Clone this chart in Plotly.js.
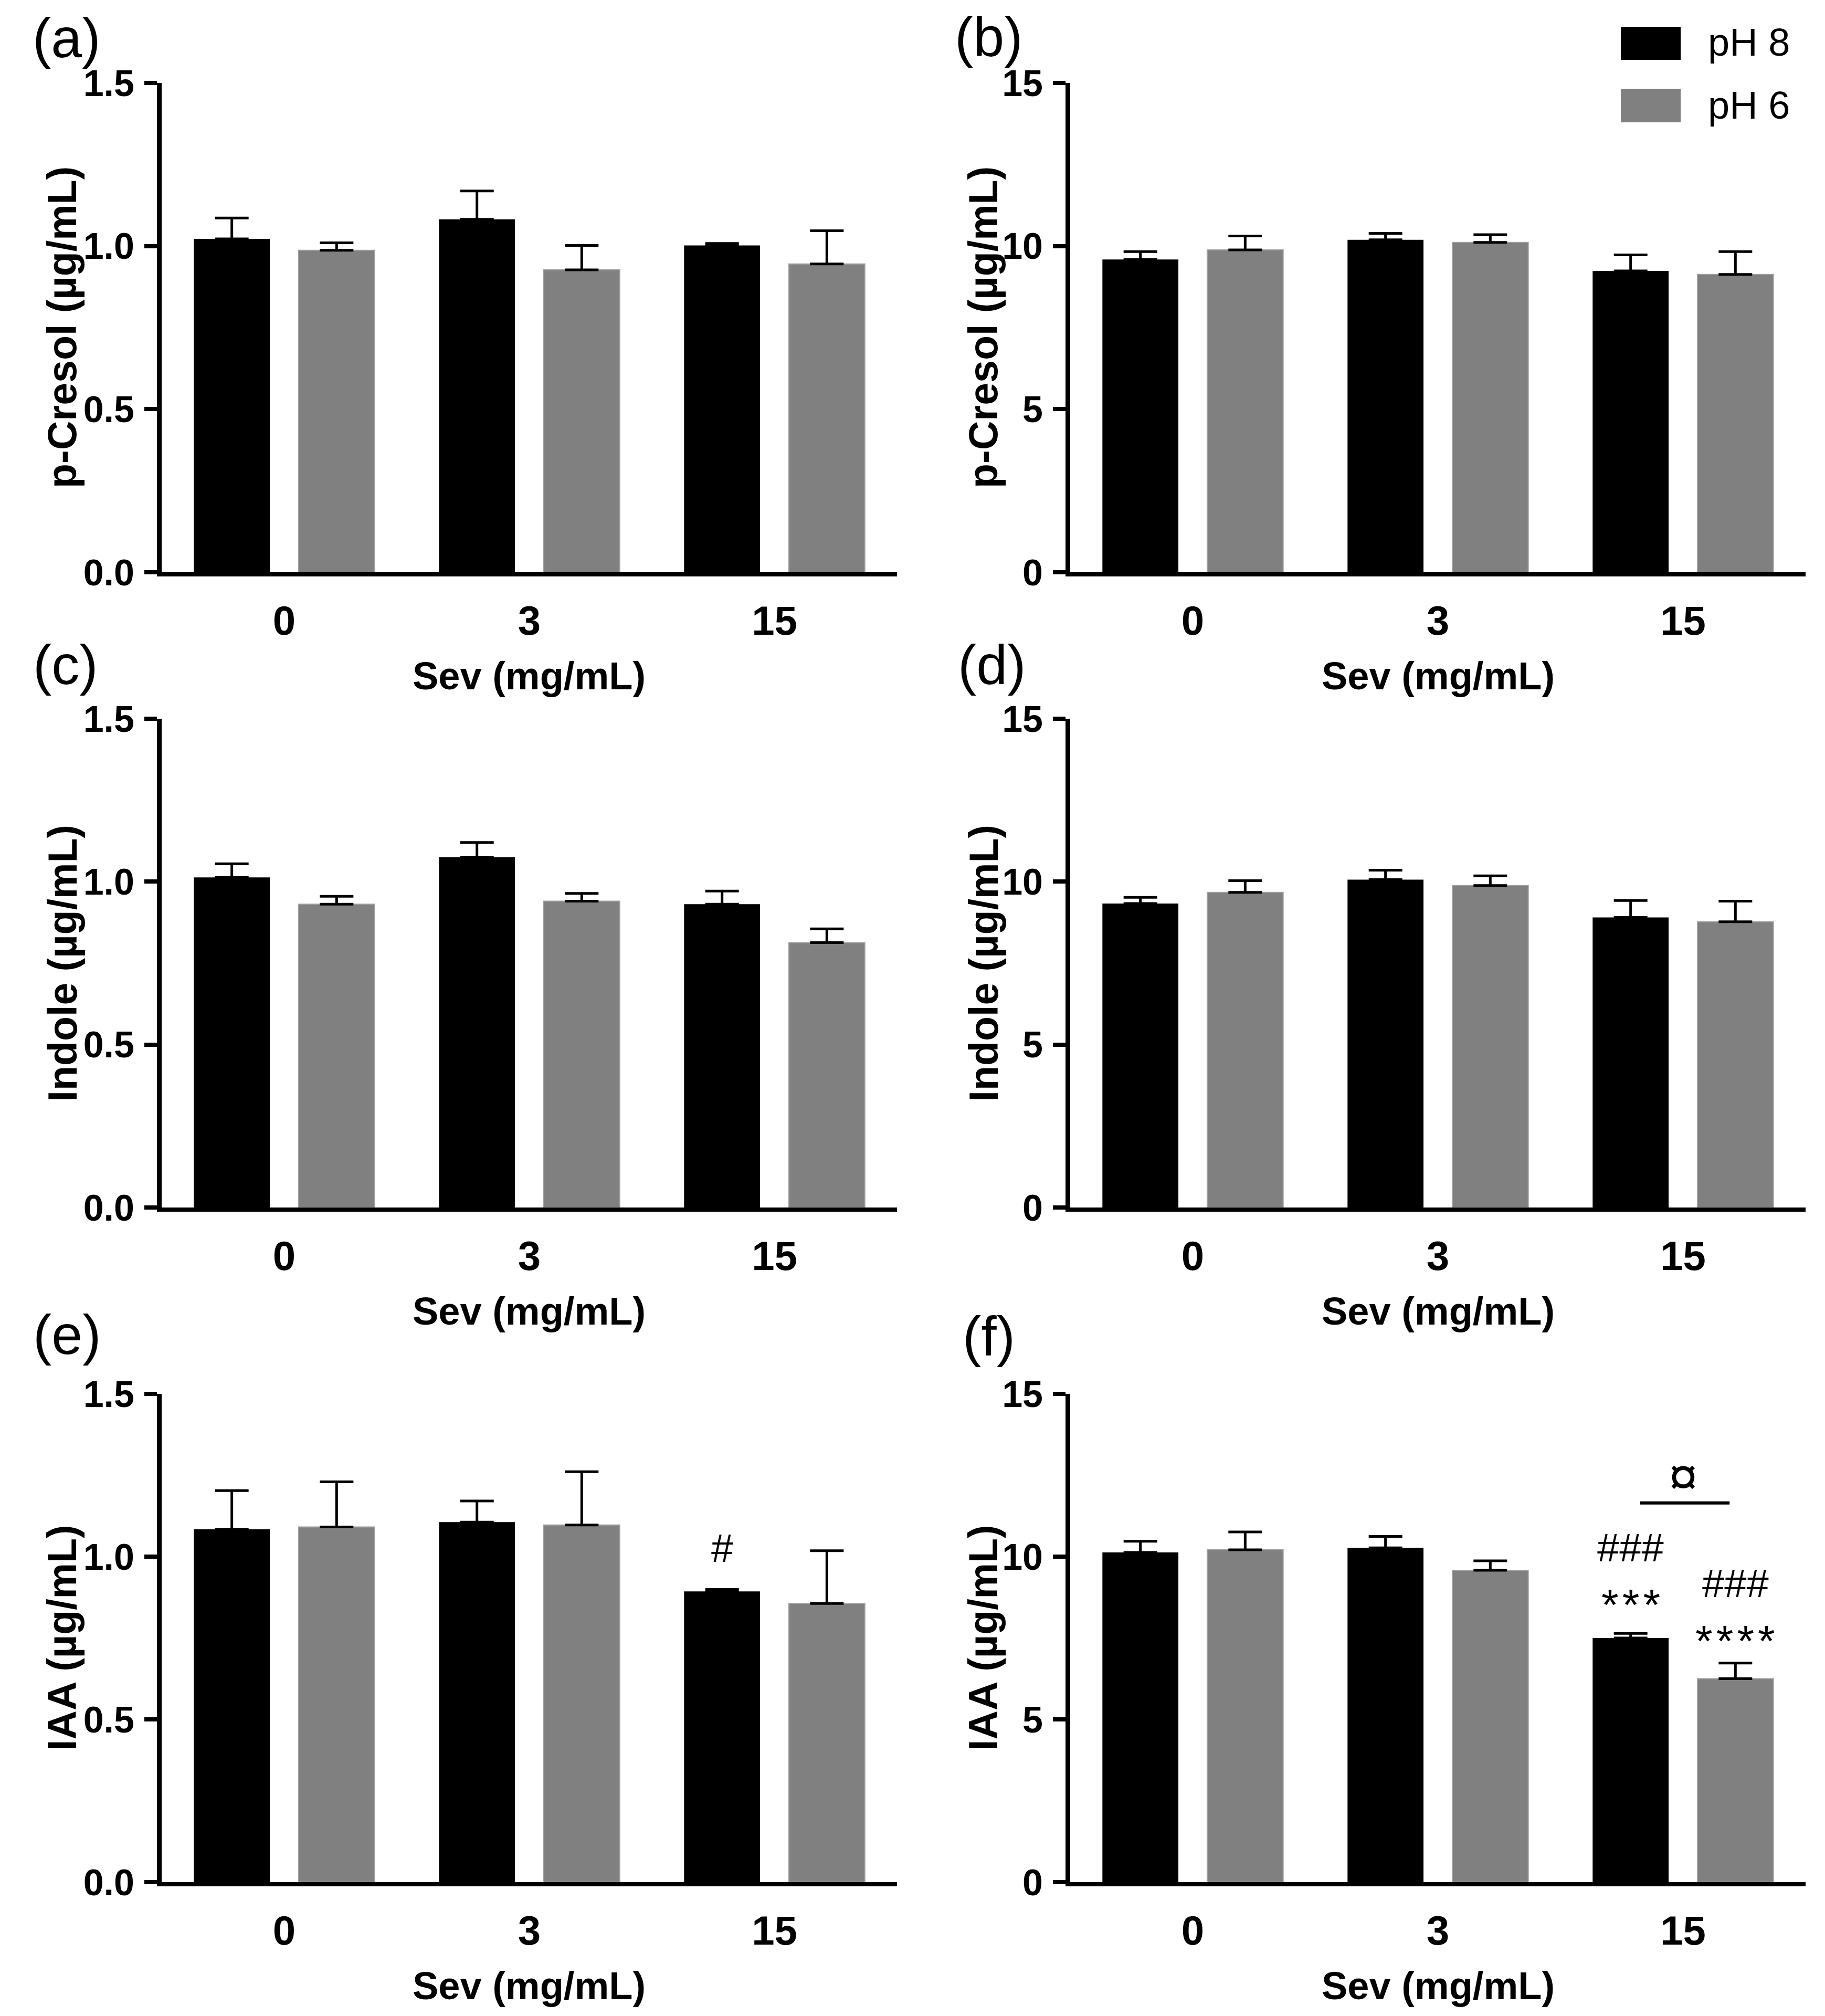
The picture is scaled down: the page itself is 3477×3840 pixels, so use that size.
<!DOCTYPE html>
<html>
<head>
<meta charset="utf-8">
<script src="https://cdn.plot.ly/plotly-3.0.1.min.js"></script>
<style>html,body{margin:0;padding:0;background:#fff;}#chart{width:3477px;height:3840px;}</style>
</head>
<body>
<div id="chart"></div>
<script>
// ---------- data ----------
const categories = ['0', '3', '15'];
const seriesNames = ['pH 8', 'pH 6'];
const panelLabels = ['(a)', '(b)', '(c)', '(d)', '(e)', '(f)'];
const yTitles = ['p-Cresol (µg/mL)', 'p-Cresol (µg/mL)', 'Indole (µg/mL)', 'Indole (µg/mL)', 'IAA (µg/mL)', 'IAA (µg/mL)'];
const xTitle = 'Sev (mg/mL)';

// panel (a) p-Cresol, low range
const aPH8 = [1.022, 1.082, 1.002];
const aPH8sd = [0.064, 0.087, 0.006];
const aPH6 = [0.987, 0.927, 0.945];
const aPH6sd = [0.023, 0.075, 0.102];
// panel (b) p-Cresol, high range
const bPH8 = [9.59, 10.19, 9.24];
const bPH8sd = [0.24, 0.20, 0.49];
const bPH6 = [9.88, 10.11, 9.13];
const bPH6sd = [0.43, 0.24, 0.70];
// panel (c) Indole, low range
const cPH8 = [1.013, 1.075, 0.931];
const cPH8sd = [0.042, 0.045, 0.040];
const cPH6 = [0.931, 0.940, 0.813];
const cPH6sd = [0.024, 0.024, 0.042];
// panel (d) Indole, high range
const dPH8 = [9.33, 10.06, 8.90];
const dPH8sd = [0.19, 0.29, 0.52];
const dPH6 = [9.67, 9.88, 8.77];
const dPH6sd = [0.36, 0.30, 0.63];
// panel (e) IAA, low range
const ePH8 = [1.084, 1.106, 0.893];
const ePH8sd = [0.119, 0.065, 0.006];
const ePH6 = [1.091, 1.097, 0.856];
const ePH6sd = [0.139, 0.164, 0.162];
// panel (f) IAA, high range
const fPH8 = [10.13, 10.27, 7.50];
const fPH8sd = [0.34, 0.35, 0.14];
const fPH6 = [10.21, 9.58, 6.25];
const fPH6sd = [0.55, 0.29, 0.48];

const lowTicks = [0, 0.5, 1.0, 1.5];
const highTicks = [0, 5, 10, 15];

// ---------- layout geometry (pixels) ----------
const W = 3477, H = 3840;
const colX = [[308, 1709], [2039, 3440]];
const rowY = [[158, 1090], [1369, 2300], [2655, 3585]];
const px = v => v / W;
const py = v => 1 - v / H;

const BLACK = '#000000';
const GRAY = '#808080';
const BASE = 'Liberation Sans, Arial, sans-serif';
const NARROW = 'Liberation Sans Narrow, Arial Narrow, Liberation Sans, Arial, sans-serif';
const bargap = 0.145;
const slotOff = (1 - bargap) / 4; // centre offset of each bar in a group

const panels = [
  {p8: aPH8, s8: aPH8sd, p6: aPH6, s6: aPH6sd, low: true},
  {p8: bPH8, s8: bPH8sd, p6: bPH6, s6: bPH6sd, low: false},
  {p8: cPH8, s8: cPH8sd, p6: cPH6, s6: cPH6sd, low: true},
  {p8: dPH8, s8: dPH8sd, p6: dPH6, s6: dPH6sd, low: false},
  {p8: ePH8, s8: ePH8sd, p6: ePH6, s6: ePH6sd, low: true},
  {p8: fPH8, s8: fPH8sd, p6: fPH6, s6: fPH6sd, low: false}
];

const traces = [];
const layout = {
  width: W, height: H,
  margin: {l: 0, r: 0, t: 0, b: 0},
  paper_bgcolor: '#ffffff', plot_bgcolor: 'rgba(0,0,0,0)',
  barmode: 'group', bargap: bargap, bargroupgap: 0.275,
  showlegend: false,
  font: {family: BASE, color: '#000'},
  annotations: [], shapes: []
};

panels.forEach((pn, i) => {
  const n = i + 1;
  const xa = 'x' + (i === 0 ? '' : n), ya = 'y' + (i === 0 ? '' : n);
  const col = i % 2, row = Math.floor(i / 2);
  const [x0, x1] = colX[col];
  const [yt, yb] = rowY[row];
  const errStyle = arr => ({type: 'data', symmetric: false, array: arr, arrayminus: arr.map(() => 0),
                            color: '#000', thickness: 5, width: 32});
  traces.push({type: 'bar', name: seriesNames[0], x: categories, y: pn.p8, xaxis: xa, yaxis: ya,
               marker: {color: BLACK, line: {width: 0}}, error_y: errStyle(pn.s8), hoverinfo: 'skip'});
  traces.push({type: 'bar', name: seriesNames[1], x: categories, y: pn.p6, xaxis: xa, yaxis: ya,
               marker: {color: GRAY, line: {color: '#a0a0a0', width: 2}}, error_y: errStyle(pn.s6), hoverinfo: 'skip'});

  const xKey = 'xaxis' + (i === 0 ? '' : n), yKey = 'yaxis' + (i === 0 ? '' : n);
  layout[xKey] = {
    domain: [px(x0), px(x1)], anchor: ya, type: 'category', range: [-0.5, 2.5],
    showline: true, linecolor: '#000', linewidth: 8, ticks: '', showgrid: false, zeroline: false,
    tickfont: {family: BASE, size: 78, color: '#000', weight: 'bold'}, ticklabelstandoff: 17, fixedrange: true
  };
  layout[yKey] = {
    domain: [py(yb), py(yt)], anchor: xa, range: pn.low ? [0, 1.5] : [0, 15],
    tickvals: pn.low ? lowTicks : highTicks, tickformat: pn.low ? '.1f' : 'd',
    ticks: 'outside', ticklen: 24, tickwidth: 8, tickcolor: '#000',
    showline: true, linecolor: '#000', linewidth: 9, showgrid: false, zeroline: false,
    tickfont: {family: BASE, size: 70, color: '#000', weight: 'bold'}, ticklabelstandoff: 5, fixedrange: true
  };

  // axis titles
  layout.annotations.push({xref: 'paper', yref: 'paper', x: px((x0 + x1) / 2), y: py(yb + 197),
    text: xTitle, showarrow: false, xanchor: 'center', yanchor: 'middle',
    font: {family: BASE, size: 74, color: '#000', weight: 'bold'}});
  layout.annotations.push({xref: 'paper', yref: 'paper', x: px(col === 0 ? 118 : 1873), y: py((yt + yb) / 2),
    text: yTitles[i], showarrow: false, textangle: -90, xanchor: 'center', yanchor: 'middle',
    font: {family: BASE, size: 77, color: '#000', weight: 'bold'}});
});

// panel letters
const letterPos = [[127, 72], [1884, 70], [125, 1266], [1890, 1266], [128, 2542], [1884, 2545]];
panelLabels.forEach((t, i) => {
  layout.annotations.push({xref: 'paper', yref: 'paper', x: px(letterPos[i][0]), y: py(letterPos[i][1]),
    text: t, showarrow: false, xanchor: 'center', yanchor: 'middle',
    font: {family: NARROW, size: 106, color: '#000'}});
});

// legend (drawn as boxes + labels)
const legendColors = [BLACK, GRAY];
const legendRows = [[51, 114, 80], [169, 233, 200]];
seriesNames.forEach((nm, k) => {
  const [t, b, c] = legendRows[k];
  layout.shapes.push({type: 'rect', xref: 'paper', yref: 'paper', x0: px(3088), x1: px(3202), y0: py(b), y1: py(t),
    fillcolor: legendColors[k], line: {width: 0}});
  layout.annotations.push({xref: 'paper', yref: 'paper', x: px(3252), y: py(c), text: nm, showarrow: false,
    xanchor: 'left', yanchor: 'middle', font: {family: BASE, size: 74, color: '#000'}});
});

// significance marks
const sigFont = {family: BASE, size: 76, color: '#000'};
const starFont = {family: BASE, size: 84, color: '#000'};
const hs = '\u200A';
layout.annotations.push({xref: 'x5', yref: 'y5', x: 2 - slotOff, y: 1.026, text: '#', showarrow: false,
  xanchor: 'center', yanchor: 'middle', font: sigFont});
layout.annotations.push({xref: 'x6', yref: 'y6', x: 2 - slotOff, y: 10.29, text: '###', showarrow: false,
  xanchor: 'center', yanchor: 'middle', font: sigFont});
layout.annotations.push({xref: 'x6', yref: 'y6', x: 2 - slotOff, y: 8.51, text: ['*', '*', '*'].join(hs), showarrow: false,
  xanchor: 'center', yanchor: 'middle', font: starFont});
layout.annotations.push({xref: 'x6', yref: 'y6', x: 2 + slotOff, y: 9.19, text: '###', showarrow: false,
  xanchor: 'center', yanchor: 'middle', font: sigFont});
layout.annotations.push({xref: 'x6', yref: 'y6', x: 2 + slotOff, y: 7.40, text: ['*', '*', '*', '*'].join(hs), showarrow: false,
  xanchor: 'center', yanchor: 'middle', font: starFont});
layout.annotations.push({xref: 'x6', yref: 'y6', x: 2, y: 12.47, text: '¤', showarrow: false,
  xanchor: 'center', yanchor: 'middle', font: {family: BASE, size: 100, color: '#000'}});
layout.shapes.push({type: 'line', xref: 'x6', yref: 'y6', x0: 2 - 0.175, x1: 2 + 0.19, y0: 11.65, y1: 11.65,
  line: {color: '#000', width: 6}});

Plotly.newPlot('chart', traces, layout, {staticPlot: true, displayModeBar: false});
</script>
</body>
</html>
